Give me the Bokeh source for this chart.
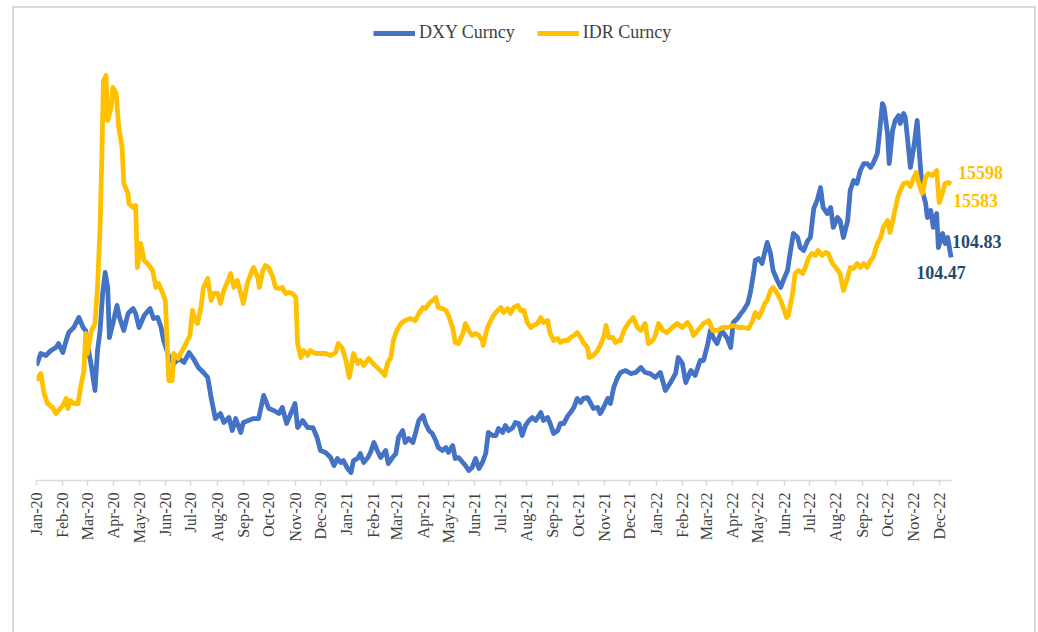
import numpy as np
from math import pi
from datetime import datetime
from bokeh.plotting import figure
from bokeh.models import (Range1d, ColumnDataSource, Legend, LegendItem, MonthsTicker,
                          DatetimeTickFormatter, LabelSet)
from bokeh.embed import file_html
from bokeh.resources import INLINE

START = np.datetime64("2020-01-01")
AXIS_START = datetime(2020, 1, 1)
AXIS_END = datetime(2022, 12, 16)

# DXY Curncy (days since 2020-01-01, index level)
dxy_days = [0,5,11,17,23,26,31,35,38,44,50,55,58,62,65,69,72,75,78,81,84,86,91,95,98,
            103,108,114,117,121,127,134,138,143,147,150,155,158,162,168,174,180,185,191,197,
            202,206,211,217,221,227,231,235,241,244,250,256,262,268,274,280,286,290,295,300,
            305,308,314,320,326,331,335,
            341,347,351,355,359,362,367,371,374,379,382,386,391,394,398,402,406,412,415,420,
            424,427,432,435,439,444,447,451,456,459,463,467,471,474,479,483,486,491,494,498,
            503,506,510,514,518,522,526,530,533,538,542,545,550,553,557,562,565,569,573,577,
            581,585,589,595,598,603,606,610,615,618,622,627,630,634,638,642,645,650,654,657,
            662,665,669,674,677,681,685,689,
            695,701,707,713,718,724,730,736,742,748,754,757,762,766,772,777,783,787,792,795,
            799,803,807,810,815,819,822,827,831,834,839,842,846,848,852,856,862,866,869,874,
            878,881,886,889,893,898,901,905,910,913,917,921,
            925,928,933,937,940,945,948,952,957,960,964,968,972,976,980,984,987,992,994,998,
            1000,1004,1006,1010,1013,1017,1019,1023,1025,1027,1031,1035,1039,1042,1045,1049,
            1051,1055,1058,1062,1064,1069,1072,1075,1079]
dxy_values = [96.47,97.27,97.13,97.47,97.67,97.93,97.33,98.13,98.67,99.0,99.67,99.0,98.8,97.27,96.33,
              94.8,97.47,98.8,101.27,102.67,101.67,98.33,99.47,100.47,99.67,98.8,99.93,100.27,99.93,99.0,
              99.8,100.27,99.6,99.67,99.0,98.13,97.27,96.8,96.6,96.93,96.67,97.33,96.93,96.33,96.0,
              95.67,94.33,92.93,93.27,92.67,93.0,92.13,92.93,92.0,92.67,92.8,92.93,92.93,94.47,93.6,
              93.47,93.27,93.67,92.6,93.27,93.93,92.33,92.8,92.33,92.33,91.67,90.8,
              90.67,90.33,89.8,90.27,90.0,90.13,89.6,89.33,90.13,90.27,90.6,90.0,90.33,90.67,91.33,
              90.8,90.33,90.8,89.93,90.33,90.6,91.67,92.13,91.33,91.6,91.33,91.93,92.8,93.13,92.6,
              92.13,91.93,91.47,91.0,90.8,91.0,90.67,91.13,90.27,90.33,90.0,89.8,89.47,89.67,90.27,
              89.6,90.0,90.6,92.0,91.8,91.8,92.27,92.0,92.47,92.13,92.33,92.67,92.6,91.8,92.47,
              92.8,93.0,92.8,93.33,92.8,93.0,92.6,91.93,92.13,92.6,92.6,93.13,93.33,93.67,94.27,
              94.0,94.27,94.33,93.93,93.6,93.67,93.27,93.67,94.27,93.93,95.0,95.6,96.0,
              96.13,95.93,96.0,96.33,96.0,95.93,95.67,96.0,94.8,95.33,95.93,97.0,96.6,95.33,96.13,
              95.8,96.8,96.8,97.93,98.8,98.27,97.93,98.6,98.67,98.27,97.67,99.33,99.6,99.93,100.13,
              100.6,101.27,102.6,103.47,103.6,103.27,104.67,103.93,102.8,102.13,101.67,102.13,102.8,103.93,105.27,
              105.0,104.33,104.13,104.8,105.0,106.93,107.47,
              108.33,107.0,106.6,107.0,105.67,106.33,106.13,105.0,106.13,108.13,108.8,108.6,109.47,109.93,109.93,
              109.67,109.93,110.6,111.67,113.93,113.67,111.93,109.93,112.13,112.8,113.13,112.6,113.27,113.0,111.93,
              109.67,111.0,112.8,110.33,108.13,107.27,106.33,106.8,105.67,106.6,104.33,105.27,104.6,105.0,103.67]

# IDR Curncy (days since 2020-01-01, rupiah per USD)
idr_days = [0,5,9,13,19,23,26,31,35,37,40,44,49,52,56,58,60,65,69,72,75,77,79,82,84,
            88,90,94,97,101,103,108,109,114,117,119,123,127,131,137,141,144,149,152,156,
            160,162,167,170,174,178,181,184,187,190,194,197,202,206,209,214,217,221,226,229,
            233,237,241,244,249,253,256,261,263,267,270,274,279,282,286,290,294,298,302,306,
            308,312,315,320,323,329,335,
            341,347,353,356,361,365,369,374,379,382,386,392,397,402,408,411,414,418,421,425,
            430,435,441,447,451,456,459,463,467,471,474,479,483,486,491,494,498,503,506,510,
            514,518,522,526,527,532,536,539,544,548,551,556,559,563,568,571,575,579,583,586,
            591,595,598,603,606,610,615,618,622,627,630,634,638,642,645,650,652,657,662,665,
            669,672,675,680,683,687,
            689,693,698,704,709,713,718,722,727,730,734,739,744,750,756,762,768,772,775,780,
            783,787,793,798,803,809,815,822,828,834,840,845,848,852,856,859,862,866,869,874,
            878,881,885,887,892,895,899,904,907,911,915,919,922,927,931,934,939,943,948,952,
            957,960,964,968,972,976,980,984,987,992,996,999,1004,1007,1011,1016,1019,1023,1027,1031,
            1035,1038,1040,1045,1049,1052,1057,1062,1065,1069,1072,1076,1079]
idr_values = [13830,13893,13713,13623,13587,13533,13560,13605,13668,13578,13650,13623,13623,13767,13920,
              14253,14073,14280,14343,14667,15207,15810,16530,16575,16170,16287,16467,16413,16107,15927,
              15603,15513,15423,15387,15405,14847,15063,14910,14883,14820,14667,14703,14613,14550,13830,
              13830,14073,14028,14073,14127,14190,14235,14460,14370,14343,14487,14667,14748,14550,14613,
              14613,14523,14640,14730,14793,14667,14730,14613,14523,14712,14793,14847,14757,14667,14820,
              14865,14847,14757,14667,14658,14667,14613,14622,14613,14577,14163,14037,14100,14055,14100,
              14073,14073,
              14073,14055,14082,14163,14118,14010,13857,14073,13983,14010,13965,14028,13983,13947,13902,
              13875,13983,14037,14190,14280,14343,14370,14388,14370,14433,14487,14478,14523,14550,14577,
              14487,14478,14460,14415,14307,14172,14163,14253,14343,14280,14235,14253,14235,14190,14145,
              14307,14370,14415,14460,14487,14442,14478,14433,14487,14505,14460,14460,14352,14307,14325,
              14343,14397,14352,14370,14253,14190,14208,14172,14190,14190,14217,14235,14262,14217,14172,
              14127,14037,14055,14100,14145,14217,14325,14217,14217,14172,14190,
              14190,14280,14343,14397,14307,14280,14343,14163,14190,14235,14343,14280,14262,14307,14343,
              14307,14352,14307,14235,14280,14307,14343,14370,14280,14280,14307,14307,14325,14307,14307,
              14298,14370,14442,14397,14460,14523,14550,14640,14667,14613,14550,14487,14397,14415,14613,
              14793,14820,14793,14847,14937,14973,14955,15000,14955,14982,14973,14883,14847,14793,14640,
              14757,14847,14838,14883,14847,14883,14847,14910,14937,15063,15117,15207,15270,15162,15297,
              15477,15540,15603,15612,15576,15657,15702,15630,15513,15657,15693,15675,15720,15432,15522,
              15603,15612,15598]

series_names = ["DXY Curncy", "IDR Curncy"]
dxy_label_text = ["104.83", "104.47"]
idr_label_text = ["15598", "15583"]

BLUE = "#4472C4"
GOLD = "#FFC000"
NAVY = "#244A6E"
GRAY = "#D9D9D9"

def to_dates(days):
    return START + np.array(days).astype("timedelta64[D]")

dxy_x = to_dates(dxy_days)
idr_x = to_dates(idr_days)
dxy_src = ColumnDataSource(dict(x=dxy_x, y=dxy_values))
idr_src = ColumnDataSource(dict(x=idr_x, y=idr_values))

p = figure(width=1024, height=626, margin=(6, 0, 0, 12),
           styles={"border-left": "2px solid #D9D9D9", "border-top": "2px solid #D9D9D9",
                   "border-right": "2px solid #D9D9D9"},
           x_axis_type="datetime", y_axis_location=None,
           x_range=Range1d(AXIS_START, datetime(2023, 3, 1)),
           y_range=Range1d(88.8, 119.733), title=None,
           output_backend="svg", toolbar_location=None,
           min_border_left=22, min_border_right=23, min_border_top=8, min_border_bottom=154)
p.extra_y_ranges = {"idr": Range1d(12930, 17106)}
p.xgrid.visible = False
p.ygrid.visible = False
p.outline_line_color = None
p.background_fill_color = "white"
p.border_fill_color = "white"

r_dxy = p.line("x", "y", source=dxy_src, line_color=BLUE, line_width=4.8, line_join="round")
r_idr = p.line("x", "y", source=idr_src, line_color=GOLD, line_width=4.8, line_join="round",
               y_range_name="idr")

# data labels attached to the last observation of each series
lab_style = dict(text_baseline="middle", text_font_size="18px", text_font_style="bold",
                 text_font="Liberation Serif")

def one_label(xs, ys, txt):
    return ColumnDataSource(dict(x=[xs[-1]], y=[ys[-1]], t=[txt]))

p.add_layout(LabelSet(x="x", y="y", text="t", source=one_label(dxy_x, dxy_values, dxy_label_text[0]),
                      x_offset=1, y_offset=16, text_align="left", text_color=NAVY, **lab_style))
p.add_layout(LabelSet(x="x", y="y", text="t", source=one_label(dxy_x, dxy_values, dxy_label_text[1]),
                      x_offset=-10, y_offset=-15, text_align="center", text_color=NAVY, **lab_style))
p.add_layout(LabelSet(x="x", y="y", text="t", source=one_label(idr_x, idr_values, idr_label_text[0]),
                      x_offset=7, y_offset=12, text_align="left", text_color=GOLD,
                      y_range_name="idr", **lab_style))
p.add_layout(LabelSet(x="x", y="y", text="t", source=one_label(idr_x, idr_values, idr_label_text[1]),
                      x_offset=2, y_offset=-16, text_align="left", text_color=GOLD,
                      y_range_name="idr", **lab_style))

ax = p.xaxis[0]
ax.bounds = (AXIS_START, AXIS_END)
ax.ticker = MonthsTicker(months=list(range(12)))
ax.formatter = DatetimeTickFormatter(months="%b-%y", days="%b-%y", years="%b-%y",
                                     hours="%b-%y", minutes="%b-%y")
ax.major_label_orientation = pi / 2
ax.axis_line_color = GRAY
ax.axis_line_width = 1.5
ax.major_tick_line_color = GRAY
ax.major_tick_line_width = 1.5
ax.major_tick_out = 5
ax.major_tick_in = 0
ax.minor_tick_line_color = None
ax.major_label_standoff = 7
ax.major_label_text_font = "Liberation Serif"
ax.major_label_text_font_size = "16px"
ax.major_label_text_color = "#404040"

legend = Legend(items=[LegendItem(label=series_names[0], renderers=[r_dxy]),
                       LegendItem(label=series_names[1], renderers=[r_idr])],
                orientation="horizontal", location=(337, 437),
                glyph_width=42, glyph_height=20, label_standoff=4, spacing=22,
                padding=0, margin=0, border_line_color=None, background_fill_alpha=0,
                label_text_font="Liberation Serif", label_text_font_size="18px",
                label_text_color="#404040")
p.add_layout(legend)

open("out.html", "w").write(file_html(p, INLINE))
